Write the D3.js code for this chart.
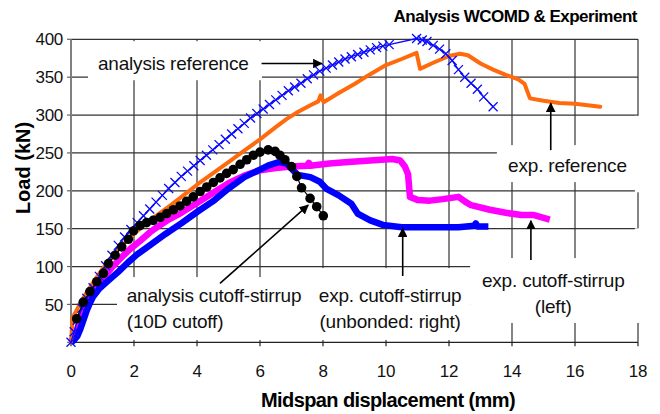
<!DOCTYPE html>
<html>
<head>
<meta charset="utf-8">
<script src="https://cdn.jsdelivr.net/npm/d3@7/dist/d3.min.js"></script>
<style>
	body { margin: 0; background: #fff; }
	svg { display: block; font-family: "Liberation Sans", Arial, sans-serif; }
</style>
</head>
<body>
<svg id="chart"></svg>
<script>
// tick values
const xTicks = [0, 2, 4, 6, 8, 10, 12, 14, 16, 18];
const yTicks = [0, 50, 100, 150, 200, 250, 300, 350, 400];
const yLabels = [50, 100, 150, 200, 250, 300, 350, 400];

// series: [displacement mm, load kN]
const analysisReference = [
	[0, 0], [0.1, 14], [0.2, 29], [0.35, 45], [0.5, 58], [0.7, 72], [0.9, 87], [1.1, 101],
	[1.3, 115], [1.5, 128], [1.7, 139], [1.9, 149], [2.1, 158], [2.3, 167], [2.5, 176],
	[2.7, 185], [2.9, 194], [3.1, 203], [3.3, 211], [3.5, 219], [3.7, 226], [3.9, 233],
	[4.1, 240], [4.3, 247], [4.5, 254], [4.7, 261], [4.9, 268], [5.1, 275], [5.3, 282],
	[5.5, 289], [5.7, 296], [5.9, 302], [6.1, 308], [6.3, 314], [6.5, 320], [6.7, 326],
	[6.9, 332], [7.1, 337], [7.3, 342], [7.5, 348], [7.7, 353], [7.9, 358], [8.1, 362],
	[8.3, 366], [8.5, 370], [8.7, 374], [8.9, 377], [9.1, 380], [9.3, 383], [9.5, 386],
	[9.7, 389], [9.9, 391], [10.1, 393], [10.97, 401], [11.15, 399], [11.3, 397], [11.5, 392],
	[11.7, 387], [11.9, 381], [12.1, 372], [12.3, 360], [12.5, 350], [12.7, 342], [12.9, 334],
	[13.1, 324], [13.4, 311]
];
const expReference = [
	[0, 0], [0.02, 12], [0.04, 25], [0.05, 33], [0.15, 40], [0.3, 52], [0.5, 66], [0.7, 79],
	[1.0, 97], [1.3, 113], [1.6, 127], [2.0, 143], [2.4, 158], [2.8, 170], [3.2, 182],
	[3.6, 195], [4.0, 208], [4.5, 223], [5.0, 238], [5.5, 253], [6.0, 268], [6.5, 284],
	[6.85, 295], [7.2, 304], [7.6, 313], [7.85, 318], [7.92, 326], [8.02, 317], [8.5, 329],
	[9.0, 341], [9.5, 354], [10.0, 366], [10.5, 374], [10.97, 382], [11.08, 361], [11.5, 369],
	[12.0, 378], [12.35, 381], [12.6, 379], [13.0, 368], [13.4, 360], [13.8, 353], [14.2, 347],
	[14.4, 341], [14.57, 322], [15.0, 319], [15.5, 316], [16.0, 315], [16.4, 313], [16.8, 311]
];
const analysisCutoff = [
	[0.18, 31], [0.39, 53], [0.6, 67], [0.82, 80], [1.03, 91], [1.19, 104], [1.4, 115],
	[1.61, 126], [1.82, 136], [1.98, 147], [2.19, 154], [2.4, 158], [2.61, 161], [2.83, 165],
	[3.04, 170], [3.25, 175], [3.46, 180], [3.67, 186], [3.88, 192], [4.1, 199], [4.31, 205],
	[4.52, 211], [4.73, 217], [4.94, 223], [5.15, 228], [5.37, 235], [5.58, 241], [5.79, 247],
	[6.0, 251], [6.26, 254], [6.48, 252], [6.63, 247], [6.79, 241], [7.0, 232], [7.17, 219],
	[7.32, 204], [7.59, 190], [7.8, 179], [8.01, 167]
];
const expUnbonded = [
	[0, 0], [0.1, 3], [0.2, 8], [0.3, 18], [0.4, 30], [0.5, 42], [0.6, 52], [0.7, 60],
	[0.9, 71], [1.2, 82], [1.5, 93], [1.8, 105], [2.1, 116], [2.5, 128], [3.0, 143],
	[3.5, 157], [4.0, 172], [4.5, 186], [5.0, 203], [5.5, 218], [6.0, 228], [6.3, 234],
	[6.6, 238], [6.85, 236], [7.05, 227], [7.2, 221], [7.6, 218], [7.9, 212], [8.1, 203],
	[8.5, 194], [8.9, 183], [9.1, 170], [9.5, 161], [9.9, 155], [10.5, 152], [11.4, 152],
	[12.3, 152], [12.8, 154], [12.85, 157], [12.9, 153], [13.25, 153]
];
const expLeft = [
	[0, 0], [0.1, 8], [0.2, 18], [0.3, 30], [0.45, 45], [0.6, 58], [0.8, 72], [1.0, 84],
	[1.3, 99], [1.6, 112], [1.9, 124], [2.2, 134], [2.5, 145], [2.8, 154], [3.1, 162],
	[3.5, 171], [4.0, 184], [4.5, 197], [5.0, 210], [5.5, 220], [6.0, 227], [6.5, 230],
	[7.0, 232], [7.5, 233], [7.55, 237], [7.6, 233], [8.2, 236], [8.8, 238], [9.5, 240],
	[10.2, 242], [10.45, 240], [10.6, 232], [10.7, 222], [10.76, 192], [11.0, 188], [11.4, 187],
	[11.8, 189], [12.3, 192], [12.5, 186], [12.7, 181], [13.3, 175], [13.8, 171], [14.3, 168],
	[14.7, 168], [15.2, 162]
];

const w = 660;
const h = 414;

const x = d3.scaleLinear().domain([0, 18]).range([71, 638]);
const y = d3.scaleLinear().domain([0, 400]).range([342.3, 39.3]);

let svg = d3.select("#chart")
	.attr("width", w)
	.attr("height", h);

svg.append("rect")
	.attr("width", w)
	.attr("height", h)
	.attr("fill", "#fff");

let defs = svg.append("defs");
defs.append("marker")
	.attr("id", "head")
	.attr("viewBox", "0 0 10 10")
	.attr("refX", 9)
	.attr("refY", 5)
	.attr("markerWidth", 6)
	.attr("markerHeight", 6)
	.attr("markerUnits", "strokeWidth")
	.attr("orient", "auto")
	.append("path")
	.attr("d", "M0,0 L10,5 L0,10 Z")
	.attr("fill", "#000");

// grid
let grid = svg.append("g");
grid.selectAll(".hg")
	.data(yTicks.filter(d => d > 0))
	.enter()
	.append("line")
	.attr("x1", x(0))
	.attr("x2", x(18))
	.attr("y1", d => y(d))
	.attr("y2", d => y(d))
	.attr("stroke", "#333")
	.attr("stroke-width", 1.2);
grid.selectAll(".vg")
	.data(xTicks.filter(d => d > 0))
	.enter()
	.append("line")
	.attr("x1", d => x(d))
	.attr("x2", d => x(d))
	.attr("y1", y(400))
	.attr("y2", y(0))
	.attr("stroke", "#333")
	.attr("stroke-width", 1.2);

// white label boxes that hide the grid, in data units
const boxes = [
	[0.54, 6.06, 346, 397.5],
	[13.52, 18.22, 211.5, 260.3],
	[1.46, 7.78, 3, 86.1],
	[7.59, 12.67, 3, 98],
	[12.67, 18.15, 25.5, 111.2],
	[17.9, 18.15, 198, 299],
	[17.9, 18.15, 111, 150.5]
];
svg.append("g").selectAll("rect")
	.data(boxes)
	.enter()
	.append("rect")
	.attr("x", d => x(d[0]))
	.attr("width", d => x(d[1]) - x(d[0]))
	.attr("y", d => y(d[3]))
	.attr("height", d => y(d[2]) - y(d[3]))
	.attr("fill", "#fff");

// axes
svg.append("line")
	.attr("x1", x(0)).attr("x2", x(0))
	.attr("y1", y(400)).attr("y2", y(0))
	.attr("stroke", "#808080")
	.attr("stroke-width", 2);
svg.append("line")
	.attr("x1", x(0)).attr("x2", x(18))
	.attr("y1", y(0)).attr("y2", y(0))
	.attr("stroke", "#222")
	.attr("stroke-width", 1.3);

svg.append("g").selectAll("line")
	.data(yTicks)
	.enter()
	.append("line")
	.attr("x1", x(0) - 4)
	.attr("x2", x(0))
	.attr("y1", d => y(d))
	.attr("y2", d => y(d))
	.attr("stroke", "#666")
	.attr("stroke-width", 1.2);
svg.append("g").selectAll("line")
	.data(xTicks)
	.enter()
	.append("line")
	.attr("x1", d => x(d))
	.attr("x2", d => x(d))
	.attr("y1", y(0))
	.attr("y2", y(0) + 4)
	.attr("stroke", "#222")
	.attr("stroke-width", 1.2);

svg.append("g").selectAll("text")
	.data(yLabels)
	.enter()
	.append("text")
	.text(d => d)
	.attr("x", x(0) - 8)
	.attr("y", d => y(d))
	.attr("dy", "0.36em")
	.attr("text-anchor", "end")
	.attr("font-size", "17px")
	.attr("letter-spacing", "-0.3px")
	.attr("fill", "#111");
svg.append("g").selectAll("text")
	.data(xTicks)
	.enter()
	.append("text")
	.text(d => d)
	.attr("x", d => x(d))
	.attr("y", 377)
	.attr("text-anchor", "middle")
	.attr("font-size", "17px")
	.attr("letter-spacing", "-0.3px")
	.attr("fill", "#111");

// titles
svg.append("text")
	.text("Analysis WCOMD & Experiment")
	.attr("x", 637)
	.attr("y", 22)
	.attr("text-anchor", "end")
	.attr("font-size", "17px")
	.attr("font-weight", "bold")
	.attr("letter-spacing", "-0.5px");
svg.append("text")
	.text("Midspan displacement (mm)")
	.attr("x", 388)
	.attr("y", 407)
	.attr("text-anchor", "middle")
	.attr("font-size", "20px")
	.attr("font-weight", "bold")
	.attr("letter-spacing", "-0.6px");
svg.append("text")
	.text("Load (kN)")
	.attr("transform", "translate(30,168) rotate(-90)")
	.attr("text-anchor", "middle")
	.attr("font-size", "20px")
	.attr("font-weight", "bold");

// series
let line = d3.line()
	.x(d => x(d[0]))
	.y(d => y(d[1]));

svg.append("path")
	.attr("d", line(expLeft))
	.attr("fill", "none")
	.attr("stroke", "#ff00ff")
	.attr("stroke-width", 6.5)
	.attr("stroke-linejoin", "round");

svg.append("path")
	.attr("d", line(expUnbonded))
	.attr("fill", "none")
	.attr("stroke", "#0000ff")
	.attr("stroke-width", 6.5)
	.attr("stroke-linejoin", "round");

svg.append("path")
	.attr("d", line(expReference))
	.attr("fill", "none")
	.attr("stroke", "#ff6a0d")
	.attr("stroke-width", 4)
	.attr("stroke-linejoin", "round")
	.attr("stroke-linecap", "round");

svg.append("path")
	.attr("d", line(analysisReference))
	.attr("fill", "none")
	.attr("stroke", "#0a0aff")
	.attr("stroke-width", 1.3);

svg.append("g").selectAll("path")
	.data(analysisReference)
	.enter()
	.append("path")
	.attr("transform", d => `translate(${x(d[0])},${y(d[1])})`)
	.attr("d", "M-4.5,-4.5 L4.5,4.5 M-4.5,4.5 L4.5,-4.5")
	.attr("stroke", "#0a0aff")
	.attr("stroke-width", 1.3);

svg.append("path")
	.attr("d", line(analysisCutoff))
	.attr("fill", "none")
	.attr("stroke", "#000")
	.attr("stroke-width", 1.2);

svg.append("g").selectAll("circle")
	.data(analysisCutoff)
	.enter()
	.append("circle")
	.attr("cx", d => x(d[0]))
	.attr("cy", d => y(d[1]))
	.attr("r", 4.8)
	.attr("fill", "#000");

// annotation arrows, in data units
const arrows = [
	[6.05, 368, 7.96, 368],
	[15.23, 253.7, 15.23, 315.5],
	[4.73, 77.8, 7.53, 181],
	[10.53, 87.5, 10.53, 150.4],
	[14.6, 108.6, 14.6, 160.4]
];
svg.append("g").selectAll("line")
	.data(arrows)
	.enter()
	.append("line")
	.attr("x1", d => x(d[0]))
	.attr("y1", d => y(d[1]))
	.attr("x2", d => x(d[2]))
	.attr("y2", d => y(d[3]))
	.attr("stroke", "#000")
	.attr("stroke-width", 1.6)
	.attr("marker-end", "url(#head)");

const notes = [
	["analysis reference", 0.857, 360, "start"],
	["exp. reference", 15.76, 225, "middle"],
	["analysis cutoff-stirrup", 1.77, 53.6, "start"],
	["(10D cutoff)", 1.77, 19.3, "start"],
	["exp. cutoff-stirrup", 10.13, 53.6, "middle"],
	["(unbonded: right)", 10.13, 19.3, "middle"],
	["exp. cutoff-stirrup", 15.31, 73.4, "middle"],
	["(left)", 15.31, 38.3, "middle"]
];
svg.append("g").selectAll("text")
	.data(notes)
	.enter()
	.append("text")
	.text(d => d[0])
	.attr("x", d => x(d[1]))
	.attr("y", d => y(d[2]))
	.attr("text-anchor", d => d[3])
	.attr("font-size", "19px")
	.attr("letter-spacing", "-0.2px")
	.attr("fill", "#111");
</script>
</body>
</html>
